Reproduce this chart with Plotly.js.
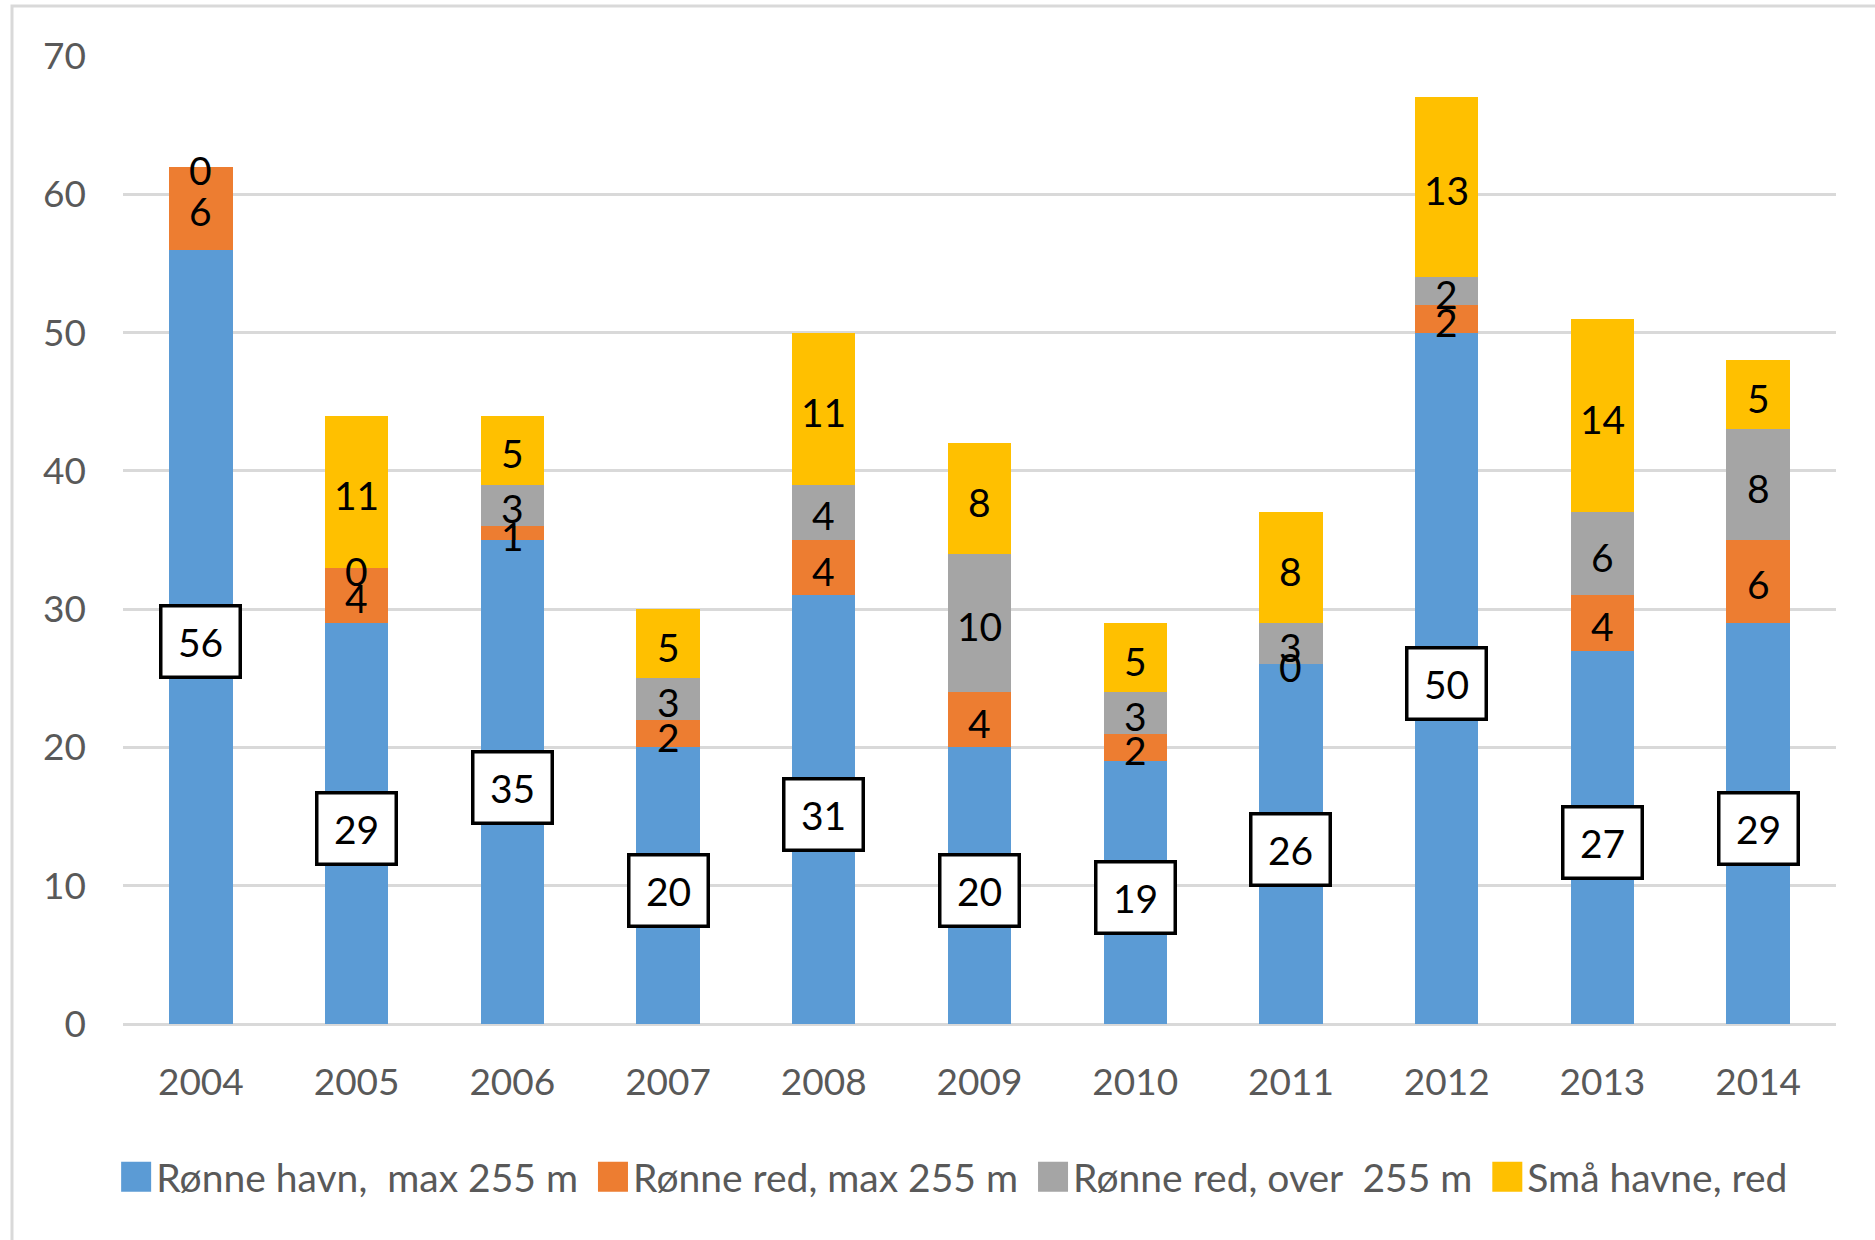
<!DOCTYPE html>
<html>
<head>
<meta charset="utf-8">
<script src="https://cdn.plot.ly/plotly-3.0.1.min.js"></script>
<style>
  html, body { margin: 0; padding: 0; background: #ffffff; }
  #chart { width: 1875px; height: 1240px; }
</style>
</head>
<body>
<div id="chart"></div>
<script>
// ---- Data ----
const years = ['2004','2005','2006','2007','2008','2009','2010','2011','2012','2013','2014'];
const ronneHavn    = [56, 29, 35, 20, 31, 20, 19, 26, 50, 27, 29];   // Rønne havn, max 255 m
const ronneRedMax  = [6, 4, 1, 2, 4, 4, 2, 0, 2, 4, 6];              // Rønne red, max 255 m
const ronneRedOver = [0, 0, 3, 3, 4, 10, 3, 3, 2, 6, 8];             // Rønne red, over 255 m
const smaHavne     = [null, 11, 5, 5, 11, 8, 5, 8, 13, 14, 5];        // Små havne, red
const seriesNames = ['Rønne havn,  max 255 m', 'Rønne red, max 255 m', 'Rønne red, over  255 m', 'Små havne, red'];
const seriesColors = ['#5B9BD5', '#ED7D31', '#A5A5A5', '#FFC000'];
const yTicks = [0, 10, 20, 30, 40, 50, 60, 70];

const FONT = 'Lato, "Open Sans", sans-serif';
const allSeries = [ronneHavn, ronneRedMax, ronneRedOver, smaHavne];

const traces = allSeries.map((vals, i) => ({
  type: 'bar',
  // a trailing no-break space widens the gap between legend entries
  name: seriesNames[i] + (i < allSeries.length - 1 ? '\u00a0' : ''),
  x: years,
  y: vals,
  marker: { color: seriesColors[i], line: { width: 0 } },
  hoverinfo: 'x+y+name'
}));

// Labels: centred in each stacked segment (x given as category index)
const annotations = [];
const base = years.map(() => 0);
allSeries.forEach((vals, i) => {
  vals.forEach((v, j) => {
    if (v === null || v === undefined) return;
    const mid = base[j] + v / 2;
    if (i === 0) {
      annotations.push({
        x: j, y: mid, xref: 'x', yref: 'y', yshift: -5,
        text: String(v), showarrow: false,
        font: { family: FONT, size: 39, color: '#000000' },
        bgcolor: '#ffffff', bordercolor: '#000000', borderwidth: 3.5,
        borderpad: 2, width: 72, height: 64
      });
    } else {
      annotations.push({
        x: j, y: mid, xref: 'x', yref: 'y', yshift: -3,
        text: String(v), showarrow: false,
        font: { family: FONT, size: 39, color: '#000000' }
      });
    }
    base[j] += v;
  });
});

const layout = {
  width: 1875, height: 1240,
  margin: { l: 123, r: 39, t: 56, b: 216 },
  paper_bgcolor: '#ffffff', plot_bgcolor: '#ffffff',
  barmode: 'stack',
  bargap: 0.593,
  showlegend: true,
  font: { family: FONT, color: '#595959' },
  xaxis: {
    type: 'category',
    categoryorder: 'array', categoryarray: years,
    range: [-0.5, years.length - 0.5], autorange: false,
    tickfont: { family: FONT, size: 37, color: '#595959' },
    ticks: '', showgrid: false, showline: false, zeroline: false,
    ticklabelstandoff: 33,
    fixedrange: true
  },
  yaxis: {
    range: [0, 70], autorange: false,
    tickvals: yTicks,
    ticktext: yTicks.map(String),
    tickfont: { family: FONT, size: 37, color: '#595959' },
    ticks: '', showline: false,
    gridcolor: '#d9d9d9', gridwidth: 3,
    zeroline: true, zerolinecolor: '#d9d9d9', zerolinewidth: 3,
    ticklabelstandoff: 36,
    fixedrange: true
  },
  legend: {
    orientation: 'h',
    x: -0.004, xanchor: 'left',
    y: -0.158, yanchor: 'middle',
    font: { family: FONT, size: 39, color: '#595959' },
    traceorder: 'normal',
    bgcolor: 'rgba(0,0,0,0)'
  },
  annotations: annotations,
  shapes: [{
    type: 'rect', xref: 'paper', yref: 'paper',
    x0: -0.0648, x1: 1.2, y0: -0.3, y1: 1.0517,
    line: { color: '#d9d9d9', width: 3 }, fillcolor: 'rgba(0,0,0,0)', layer: 'below'
  }]
};

Plotly.newPlot('chart', traces, layout, { displayModeBar: false, staticPlot: true }).then(gd => {
  gd.querySelectorAll('.legend .legendpoints path').forEach(p => {
    p.setAttribute('d', 'M15,15H-15V-15H15Z');
  });
});
</script>
</body>
</html>
